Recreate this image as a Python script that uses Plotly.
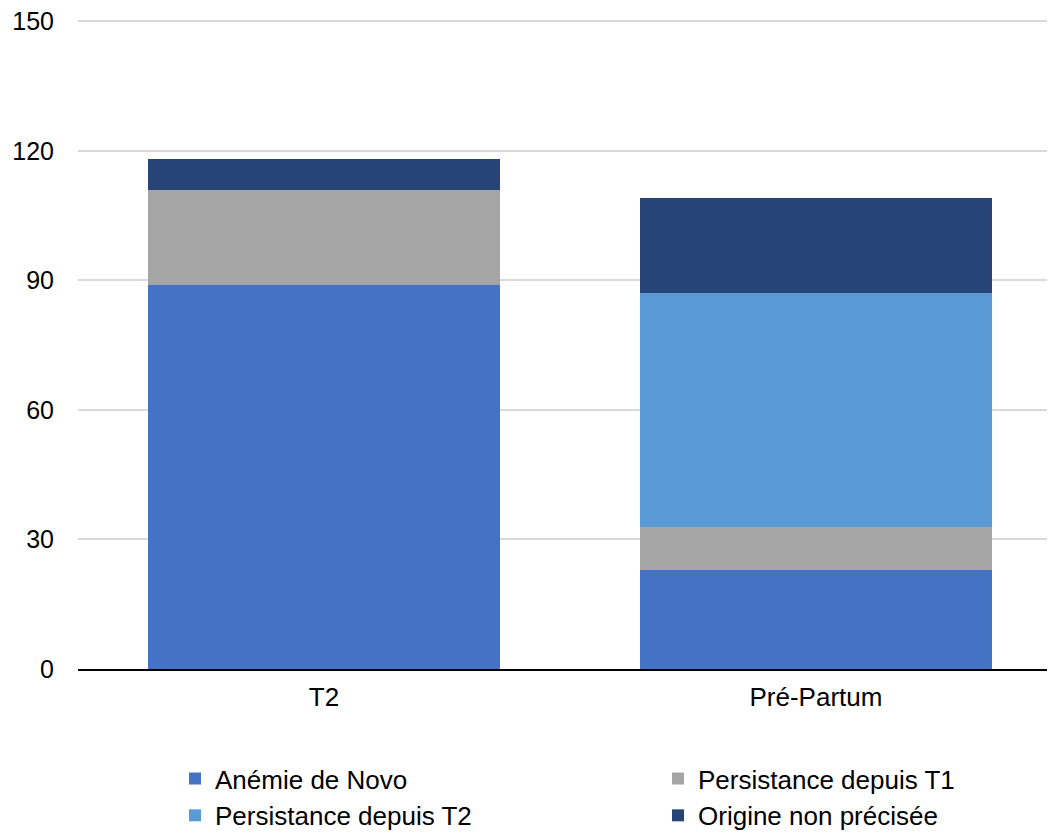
import plotly.graph_objects as go

categories = ["T2", "Pré-Partum"]
series_names = ["Anémie de Novo", "Persistance depuis T1", "Persistance depuis T2", "Origine non précisée"]
anemie_de_novo = [89, 23]
persistance_t1 = [22, 10]
persistance_t2 = [0, 54]
origine_non_precisee = [7, 22]
colors = ["#4472C4", "#A5A5A5", "#5B9BD5", "#264478"]
y_ticks = [0, 30, 60, 90, 120, 150]

fig = go.Figure()
for name, vals, col in zip(series_names,
                           [anemie_de_novo, persistance_t1, persistance_t2, origine_non_precisee],
                           colors):
    fig.add_trace(go.Bar(x=categories, y=vals, name=name, marker_color=col,
                         marker_line_width=0, width=0.715))

font = "Liberation Sans, Arial, sans-serif"
fig.update_layout(
    barmode="stack",
    width=1047, height=826,
    margin=dict(l=70, r=0, t=12, b=165, autoexpand=False),
    plot_bgcolor="white", paper_bgcolor="white",
    font=dict(family=font, size=25, color="#000000"),
    xaxis=dict(range=[-0.5, 1.486], showgrid=False, showline=True, linecolor="#000000",
               linewidth=2, ticks="", tickfont=dict(size=26), ticklabelstandoff=4,
               automargin=False),
    yaxis=dict(range=[0, 150.3], tickvals=y_ticks, ticktext=[str(v) for v in y_ticks],
               showgrid=True, gridcolor="#D9D9D9",
               gridwidth=1.5, zeroline=False, showline=False, ticks="",
               tickfont=dict(size=25), ticklabelstandoff=23, automargin=False,
               ticklabeloverflow="allow"),
    legend=dict(orientation="h", traceorder="normal", x=0.0993, xanchor="left",
                y=-0.1327, yanchor="top", entrywidth=438, entrywidthmode="pixels",
                font=dict(size=26), itemwidth=30, tracegroupgap=0),
    showlegend=True,
)
fig.write_html("out.html")
